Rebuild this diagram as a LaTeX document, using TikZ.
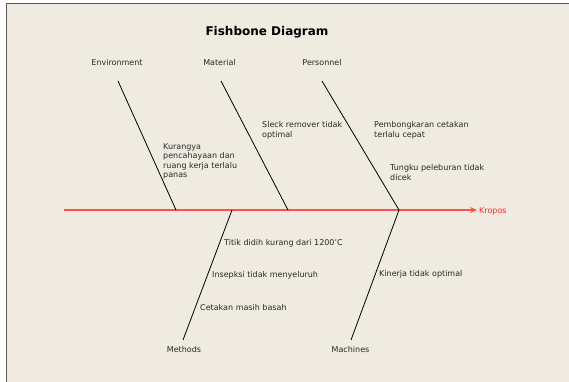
\documentclass[tikz,border=0pt]{standalone}
\usepackage{fontspec}
\setmainfont{DejaVu Sans}
\usetikzlibrary{arrows.meta,positioning}
\definecolor{panelbeige}{RGB}{239,235,225}
\definecolor{spinered}{RGB}{255,80,80}
\definecolor{effectred}{RGB}{250,40,40}
\definecolor{labelgray}{RGB}{40,40,40}
\definecolor{framegray}{RGB}{90,90,90}

\begin{document}
\begin{tikzpicture}[x=1pt,y=-1pt,cat/.style={font=\fontsize{8}{9.5}\selectfont,text=labelgray,inner sep=0,anchor=base},cause/.style={font=\fontsize{8}{9.5}\selectfont,text=labelgray,inner sep=0,anchor=north west,align=left},bone/.style={draw=black,line width=0.8pt},spine/.style={draw=spinered,line width=1.2pt,-{Stealth[length=7pt,width=6pt]}}]
\useasboundingbox (0,0) rectangle (569,382);
\fill[panelbeige] (6.5,3.5) rectangle (569,382);
\draw[framegray,line width=1.5pt] (6.5,382) -- (6.5,3.5) -- (569,3.5);
\node[font=\fontsize{12}{14}\selectfont\bfseries,anchor=base,inner sep=0](title) at (267,36){Fishbone Diagram};
\node[cat](env) at (117,66){Environment};
\node[cat](mat) at (219.5,66){Material};
\node[cat](pers) at (322,66){Personnel};
\node[cat](meth) at (184,352){Methods};
\node[cat](mach) at (350.5,352){Machines};
\node[font=\fontsize{8}{9.5}\selectfont,text=effectred,inner sep=0,anchor=base west](effect) at (479,213.5){Kropos};
\coordinate (tail) at (64,210);
\coordinate (envtop) at (118,81);\coordinate (envfoot) at (176,210);
\coordinate (mattop) at (221,81);\coordinate (matfoot) at (288,210);
\coordinate (perstop) at (322,81);\coordinate (persfoot) at (399,210);
\coordinate (methtop) at (232,210);\coordinate (methfoot) at (183,340);
\coordinate (machfoot) at (351,340);
\draw[spine](tail)--([xshift=-2pt]tail -| effect.west);
\draw[bone](envtop)--(envfoot);\draw[bone](mattop)--(matfoot);\draw[bone](perstop)--(persfoot);
\draw[bone](methtop)--(methfoot);\draw[bone](persfoot)--(machfoot);
\node[cause](c1) at (163,143){Kurangya\\pencahayaan dan\\ruang kerja terlalu\\panas};
\node[cause](c2) at (262,121.5){Sleck remover tidak\\optimal};
\node[cause](c3) at (374,121.5){Pembongkaran cetakan\\terlalu cepat};
\node[cause](c4) at (390,164.5){Tungku peleburan tidak\\dicek};
\node[cause](c5) at (224,239.5){Titik didih kurang dari 1200'C};
\node[cause](c6) at (212,271){Insepksi tidak menyeluruh};
\node[cause](c7) at (200,304.3){Cetakan masih basah};
\node[cause](c8) at (379,270.7){Kinerja tidak optimal};
\end{tikzpicture}
\end{document}
